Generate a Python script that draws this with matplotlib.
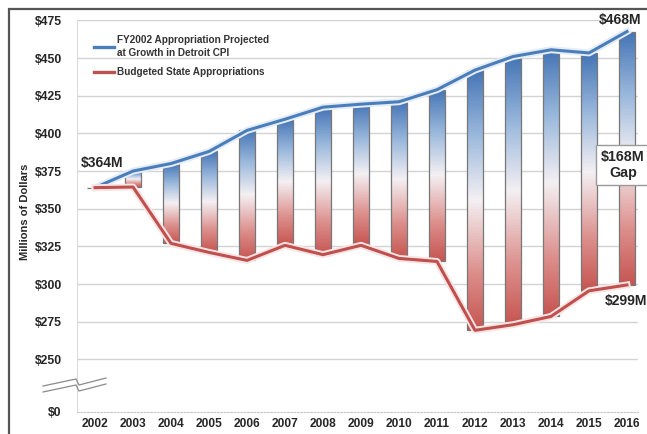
import numpy as np
import matplotlib
matplotlib.use("Agg")
import matplotlib.pyplot as plt
import matplotlib.patheffects as pe
from matplotlib.colors import LinearSegmentedColormap
from matplotlib.patches import Rectangle
from matplotlib.lines import Line2D

plt.rcParams['font.family'] = ['Liberation Sans', 'DejaVu Sans']
plt.rcParams['font.weight'] = 'bold'

# Fiscal years and appropriation series (millions of dollars)
years = [2002, 2003, 2004, 2005, 2006, 2007, 2008, 2009,
         2010, 2011, 2012, 2013, 2014, 2015, 2016]
projected = [364, 375, 380, 388, 402, 409.4, 417.4, 419.4,
             421, 429, 442, 451, 455.5, 453.4, 467.6]
budgeted = [364, 364.4, 327, 321, 315.7, 325.7, 319.5, 325.7,
            317, 315, 269.3, 273, 278.5, 295.5, 299.4]
ytick_values = [250, 275, 300, 325, 350, 375, 400, 425, 450, 475]
zero_pos = 215.4   # where the broken axis places $0

series_labels = ["FY2002 Appropriation Projected\nat Growth in Detroit CPI",
                 "Budgeted State Appropriations"]

blue = '#4a7ebb'
red = '#c0504d'
txt = '#262626'

fig = plt.figure(figsize=(6.47, 4.34), dpi=100)
W, H = 647, 434
ax_l, ax_r, ax_t, ax_b = 77, 638, 20.4, 411.5
ax = fig.add_axes([ax_l / W, 1 - ax_b / H, (ax_r - ax_l) / W, (ax_b - ax_t) / H])

# outer chart frame
fig.patches.append(Rectangle((9 / W, -0.1), 2, 1.1 - 9 / H, transform=fig.transFigure,
                             fill=False, edgecolor='#555555', linewidth=1.6))

x = np.array(years, dtype=float)
top = np.array(projected, dtype=float)
bot = np.array(budgeted, dtype=float)

# gap bars with a red -> white -> blue vertical gradient
cmap = LinearSegmentedColormap.from_list(
    'gap', [(0.0, '#c65551'), (0.22, '#dc8f8c'), (0.5, '#f4f0f3'),
            (0.75, '#9ab8dc'), (1.0, '#4474b5')])
grad = np.linspace(0, 1, 256).reshape(-1, 1)
bw = 0.42
bars = ax.bar(x, top - bot, bottom=bot, width=bw, facecolor='none',
              edgecolor='#777777', linewidth=0.9, zorder=3)
for xi, lo, hi, patch in zip(x, bot, top, bars):
    im = ax.imshow(grad, cmap=cmap, origin='lower', aspect='auto',
                   extent=(xi - bw / 2, xi + bw / 2, lo, hi), zorder=2,
                   interpolation='bilinear')
    im.set_clip_path(patch)

# series lines
glow_b = [pe.Stroke(linewidth=5, foreground='#e4ecf6'), pe.Normal()]
glow_r = [pe.Stroke(linewidth=5, foreground='#f7e4e4'), pe.Normal()]
ax.plot(x, top, color=blue, lw=2.2, zorder=4, path_effects=glow_b,
        solid_joinstyle='round')
ax.plot(x, bot, color=red, lw=2.2, zorder=4, path_effects=glow_r,
        solid_joinstyle='round')

ax.set_xlim(2001.526, 2016.29)
ax.set_ylim(zero_pos, 475)

ax.set_yticks([zero_pos] + ytick_values)
ax.set_yticklabels(['$0'] + [f'${v}' for v in ytick_values])
ax.set_xticks(years)
ax.set_xticklabels([str(y) for y in years])
ax.tick_params(axis='both', length=0, labelcolor=txt)
ax.tick_params(axis='y', pad=11, labelsize=8.8)
ax.tick_params(axis='x', pad=5, labelsize=8.6)
for lab in ax.get_xticklabels() + ax.get_yticklabels():
    lab.set_fontweight('bold')

for v in ytick_values:
    ax.axhline(v, color='#d3d3d3', lw=1.0, zorder=1)

for s in ['top', 'right']:
    ax.spines[s].set_visible(False)
ax.spines['left'].set_color('#dcdcdc')
ax.spines['left'].set_linewidth(0.8)
ax.spines['bottom'].set_color('#c8c8c8')
ax.spines['bottom'].set_linestyle((0, (1.5, 1.5)))
ax.spines['bottom'].set_linewidth(0.8)

ax.set_ylabel('Millions of Dollars', fontsize=8, fontweight='bold', color=txt)
ax.yaxis.set_label_coords(-0.084, 0.51)

# axis break symbol
def to_ax(px, py):
    return (px - ax_l) / (ax_r - ax_l), 1 - (py - ax_t) / (ax_b - ax_t)

for off in (0, 6):
    pts = [(43, 386 + off), (76, 379 + off), (79, 385 + off), (106, 378 + off)]
    xs, ys = zip(*[to_ax(px, py) for px, py in pts])
    ax.plot(xs, ys, transform=ax.transAxes, color='#8a8a8a', lw=0.9,
            clip_on=False, zorder=5)

# legend
handles = [Line2D([], [], color=blue, lw=2.4), Line2D([], [], color=red, lw=2.4)]
leg = ax.legend(handles, series_labels, loc='upper left',
                bbox_to_anchor=(0.03, 0.962), bbox_transform=ax.transAxes,
                frameon=False, fontsize=7.2, handlelength=2.0, handletextpad=0.3,
                labelspacing=0.95, borderpad=0, borderaxespad=0)
for t in leg.get_texts():
    t.set_color('#333333')
    t.set_fontweight('bold')
    t.set_linespacing(1.3)

# value annotations
ax.annotate(f'${top[0]:.0f}M', xy=(x[0], top[0]), xytext=(5, 18),
            textcoords='offset points', ha='center', va='center',
            fontsize=10, fontweight='bold', color=txt, zorder=6)
ax.annotate(f'${top[-1]:.0f}M', xy=(x[-1], top[-1]), xytext=(-5, 8.6),
            textcoords='offset points', ha='center', va='center',
            fontsize=10, fontweight='bold', color=txt, zorder=6,
            annotation_clip=False)
ax.annotate(f'${bot[-1]:.0f}M', xy=(x[-1], bot[-1]), xytext=(-1, -11.5),
            textcoords='offset points', ha='center', va='center',
            fontsize=10, fontweight='bold', color=txt, zorder=6,
            annotation_clip=False)
gap = top[-1] - bot[-1]
ax.annotate(f'${gap:.0f}M\nGap', xy=(x[-1], (top[-1] + bot[-1]) / 2),
            xytext=(-3, -5), textcoords='offset points', ha='center',
            va='center', fontsize=10.3, fontweight='bold', color=txt, zorder=7,
            linespacing=1.2, annotation_clip=False,
            bbox=dict(boxstyle='square,pad=0.35', facecolor='white',
                      edgecolor='#9a9a9a', linewidth=1.0))

fig.savefig('out.png', dpi=100)
